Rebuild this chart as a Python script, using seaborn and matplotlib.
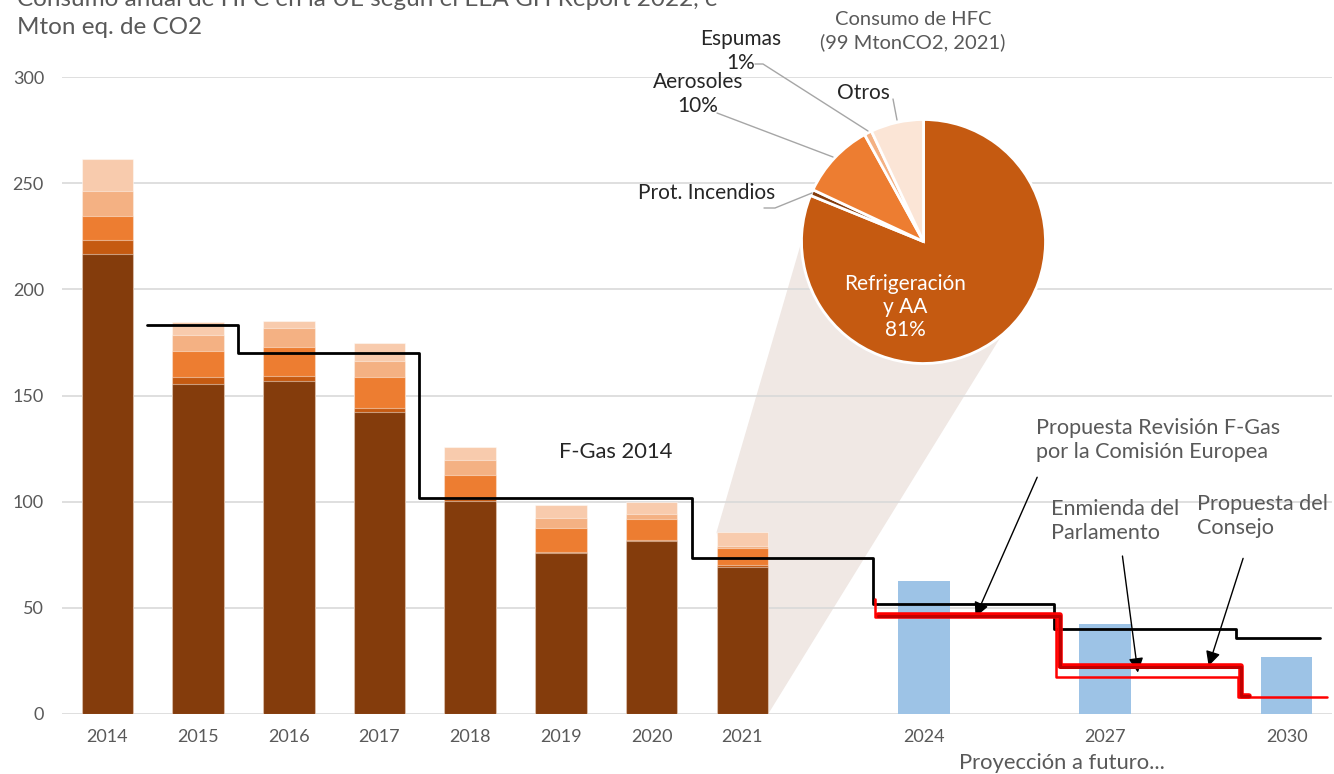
import matplotlib
matplotlib.use('Agg')
import numpy as np
import matplotlib.pyplot as plt
import seaborn as sns
from matplotlib.patches import Polygon
from matplotlib.lines import Line2D

# HFC consumption per year (Mton CO2 eq), stacked layers bottom -> top
years = ['2014', '2015', '2016', '2017', '2018', '2019', '2020', '2021']
refrigeracion = [216.6, 155.6, 156.8, 142.0, 100.2, 75.8, 81.6, 69.0]
incendios = [6.6, 3.1, 2.4, 2.1, 1.1, 0.5, 0.5, 1.1]
aerosoles = [11.4, 12.3, 13.7, 14.6, 11.3, 11.3, 9.9, 8.3]
espumas = [11.8, 7.4, 8.7, 7.7, 6.8, 4.7, 2.2, 0.9]
otros = [15.2, 6.0, 3.4, 8.5, 6.2, 5.9, 5.7, 6.3]

# projection
proj_years = ['2024', '2027', '2030']
proj_values = [62.6, 42.4, 26.8]

# quota steps (start year, value)
fgas_years = [2015, 2016, 2018, 2021, 2024, 2027, 2030]
fgas_values = [183.2, 170.2, 101.7, 73.3, 51.7, 40.0, 35.6]
comision_years = [2024, 2024, 2027, 2030]
comision_values = [54.3, 45.6, 17.6, 8.0]
parlamento_years = [2024, 2027, 2030]
parlamento_values = [46.0, 22.0, 8.5]
consejo_years = [2024, 2027, 2030]
consejo_values = [46.4, 22.6, 8.5]

# pie 2021
pie_labels = ['Refrigeración y AA', 'Prot. Incendios', 'Aerosoles', 'Espumas', 'Otros']
pie_shares = [81, 0.8, 10, 1, 7]

sns.set_style('white')
plt.rcParams['font.family'] = ['Lato', 'DejaVu Sans']

W, H = 1334, 774
fig = plt.figure(figsize=(W / 100, H / 100), dpi=100)
ax = fig.add_axes([62 / W, 1 - 714 / H, (1332 - 62) / W, (714 - 77) / H])

def fx(px):
    return px / W

def fy(py):
    return 1 - py / H

order = years + [' ', proj_years[0], '  ', proj_years[1], '   ', proj_years[2]]
bar_w = 0.57

layers = [refrigeracion, incendios, aerosoles, espumas, otros]
layer_colors = ['#843C0C', '#C55A11', '#ED7D31', '#F4B183', '#F8CBAD']
cum = np.cumsum(layers, axis=0)
for i in range(len(layers) - 1, -1, -1):
    sns.barplot(x=years, y=cum[i], order=order, color=layer_colors[i], saturation=1,
                width=bar_w, edgecolor=(1, 1, 1, 0.45), linewidth=0.8, ax=ax, zorder=2)
sns.barplot(x=proj_years, y=proj_values, order=order, color='#9DC3E6', saturation=1,
            width=bar_w, linewidth=0, ax=ax, zorder=2)

ax.set_xlim(-0.5, 13.5)
ax.set_ylim(0, 300)
ax.set_yticks(range(0, 301, 50))
ax.yaxis.grid(True, color='#D9D9D9', lw=1.2)
ax.set_axisbelow(True)
sns.despine(ax=ax, left=True, bottom=True)
ax.tick_params(axis='both', length=0, labelsize=13, labelcolor='#595959')
ax.tick_params(axis='y', pad=13)
ax.tick_params(axis='x', pad=11)
ax.set_xlabel('')
ax.set_ylabel('')


def slot(year):
    return year - 2014 if year <= 2021 else 7 + (year - 2021) * 2 / 3


def step_line(yrs, vals, shift, end, color, lw):
    xs = [slot(y) - 0.5 + shift for y in yrs] + [end]
    ys = list(vals) + [vals[-1]]
    sns.lineplot(x=xs, y=ys, drawstyle='steps-post', color=color, lw=lw,
                 estimator=None, sort=False, ax=ax, zorder=4)


step_line(fgas_years, fgas_values, -0.06, 13.37, 'black', 2)
step_line(comision_years, comision_values, -0.04, 13.44, '#FF0000', 1.8)
step_line(consejo_years, consejo_values, 0.0, 12.59, '#FF0000', 4)
step_line(parlamento_years, parlamento_values, 0.0, 12.59, '#C00000', 2.2)

# pie inset
pax = fig.add_axes([801.5 / W, 1 - 363.5 / H, 244 / W, 244 / H])
pie_colors = ['#C55A11', '#843C0C', '#ED7D31', '#F4B183', '#FBE5D6']
pax.pie(pie_shares, colors=pie_colors, startangle=90, counterclock=False,
        wedgeprops=dict(edgecolor='white', linewidth=2))
pax.set_xlim(-1, 1)
pax.set_ylim(-1, 1)
pax.patch.set_visible(False)

# connector between 2021 bar and pie
total_2021 = cum[-1][-1]
inv = fig.transFigure.inverted()
p1 = inv.transform(ax.transData.transform((7 - bar_w / 2, total_2021)))
p2 = inv.transform(ax.transData.transform((7 + bar_w / 2, 0)))
a = np.deg2rad(-50)
p3 = inv.transform(pax.transData.transform((np.cos(a), np.sin(a))))
p4 = inv.transform(pax.transData.transform((-1, 0)))
ax.add_patch(Polygon([p1, p4, p3, p2], closed=True, transform=fig.transFigure,
                     facecolor='#F0E8E4', edgecolor='none', zorder=0.2, clip_on=False))

# pie labels and leader lines
lc = '#A6A6A6'
for xs, ys in [([755, 763, 868], [64, 64, 131]),
               ([717, 833], [113, 157]),
               ([893, 897], [99, 120]),
               ([764, 775, 812], [208, 208, 193])]:
    fig.add_artist(Line2D([fx(v) for v in xs], [fy(v) for v in ys], color=lc, lw=1))

fig.text(fx(913), fy(31), 'Consumo de HFC\n(99 MtonCO2, 2021)', ha='center', va='center',
         fontsize=14.5, color='#595959', linespacing=1.3)
fig.text(fx(741), fy(51), 'Espumas\n1%', ha='center', va='center', fontsize=15, linespacing=1.2)
fig.text(fx(698), fy(94), 'Aerosoles\n10%', ha='center', va='center', fontsize=15, linespacing=1.2)
fig.text(fx(863), fy(93), 'Otros', ha='center', va='center', fontsize=15)
fig.text(fx(707), fy(193), 'Prot. Incendios', ha='center', va='center', fontsize=15)
fig.text(fx(905), fy(307), 'Refrigeración\ny AA\n81%', ha='center', va='center', fontsize=15,
         color='white', linespacing=1.2)

# titles and annotations
fig.text(fx(17), fy(-1), 'Consumo anual de HFC en la UE según el EEA GH Report 2022, e',
         ha='left', va='center', fontsize=17.5, color='#595959')
fig.text(fx(17), fy(27), 'Mton eq. de CO2', ha='left', va='center', fontsize=17.5, color='#595959')
fig.text(fx(616), fy(452), 'F-Gas 2014', ha='center', va='center', fontsize=15.8)
fig.text(fx(1036), fy(440), 'Propuesta Revisión F-Gas\npor la Comisión Europea', ha='left',
         va='center', fontsize=15.6, color='#595959', linespacing=1.3)
fig.text(fx(1051), fy(521), 'Enmienda del\nParlamento', ha='left', va='center',
         fontsize=15.6, color='#595959', linespacing=1.2)
fig.text(fx(1197), fy(516), 'Propuesta del\nConsejo', ha='left', va='center',
         fontsize=15.6, color='#595959', linespacing=1.3)
fig.text(fx(1062), fy(763), 'Proyección a futuro...', ha='center', va='center',
         fontsize=15.8, color='#595959')

arrow = dict(arrowstyle='-|>', color='black', lw=1, mutation_scale=22, shrinkA=0, shrinkB=0)
ax.annotate('', xy=(9.57, 45.7), xytext=(10.25, 111.5), arrowprops=arrow, annotation_clip=False)
ax.annotate('', xy=(11.36, 19.5), xytext=(11.19, 74.4), arrowprops=arrow, annotation_clip=False)
ax.annotate('', xy=(12.14, 22.6), xytext=(12.52, 73.3), arrowprops=arrow, annotation_clip=False)

fig.savefig('out.png', dpi=100)
